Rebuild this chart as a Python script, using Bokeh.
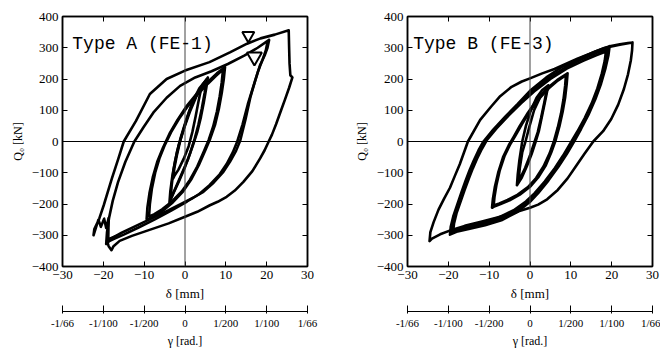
from bokeh.plotting import figure
from bokeh.models import Range1d, FixedTicker, LinearAxis, Span, Label, ColumnDataSource
from bokeh.layouts import row, column
from bokeh.embed import file_html
from bokeh.resources import INLINE

# ---------------- data (delta [mm], Q0 [kN]) ----------------
x_ticks = [-30, -20, -10, 0, 10, 20, 30]
y_ticks = [-400, -300, -200, -100, 0, 100, 200, 300, 400]
gamma_ticks = [-30, -20, -10, 0, 10, 20, 30]
gamma_labels = ["-1/66", "-1/100", "-1/200", "0", "1/200", "1/100", "1/66"]

# Type A (FE-1)
A1_x = [4.0, 3.3, 2.6, 1.8, 0.9, -0.3, -1.6, -2.6, -2.9, -2.6, -2.0, -1.2, -0.2, 1.0, 2.3, 3.3, 4.0]
A1_y = [172, 128, 80, 30, -15, -55, -90, -110, -118, -85, -45, 0, 45, 95, 135, 160, 172]
A2_x = [5.6, 5.2, 4.6, 3.9, 3.0, 2.0, 0.8, -0.7, -2.2, -3.3, -3.8, -3.6, -3.1, -2.4, -1.5, -0.3, 1.2, 2.8, 4.3, 5.6]
A2_y = [205, 170, 125, 78, 30, -10, -55, -100, -145, -178, -195, -160, -110, -60, -10, 40, 95, 145, 182, 205]
A3_x = [5.3, 4.8, 4.1, 3.3, 2.4, 1.3, 0.0, -1.5, -2.8, -3.5, -3.3, -2.8, -2.0, -1.0, 0.3, 1.8, 3.5, 5.3]
A3_y = [198, 155, 105, 55, 10, -35, -82, -128, -165, -185, -145, -90, -35, 15, 70, 125, 170, 198]
A4_x = [9.8, 9.5, 9.0, 8.3, 7.4, 6.2, 4.9, 3.4, 1.6, -0.5, -3.0, -5.5, -7.6, -8.9, -9.4, -9.2, -8.7, -7.9, -6.8, -5.4, -3.8, -1.8, 0.5, 3.0, 5.5, 7.8, 9.8]
A4_y = [238, 200, 155, 105, 55, 10, -30, -75, -120, -160, -195, -222, -240, -247, -248, -210, -165, -115, -65, -20, 25, 70, 115, 155, 190, 218, 238]
A5_x = [9.3, 9.0, 8.5, 7.8, 6.9, 5.8, 4.5, 3.0, 1.2, -0.8, -3.2, -5.6, -7.6, -8.8, -8.6, -8.1, -7.3, -6.2, -4.9, -3.4, -1.5, 0.8, 3.2, 5.6, 7.6, 9.3]
A5_y = [230, 190, 145, 95, 48, 5, -35, -80, -123, -160, -192, -217, -233, -240, -200, -150, -100, -52, -10, 30, 72, 115, 152, 185, 210, 230]
A6_x = [20.6, 20.2, 19.5, 18.4, 17.2, 16.0, 14.8, 13.5, 12.5, 11.0, 9.4, 7.0, 4.5, 2.0, 0.0, -4.0, -8.0, -12.0, -15.5, -18.0, -19.3,
        -19.1, -18.6, -17.7, -16.4, -14.6, -12.4, -10.2, -7.6, -4.5, -1.2, 2.5, 6.5, 10.5, 14.5, 17.8, 20.6]
A6_y = [325, 300, 275, 245, 195, 141, 70, 2, -30, -65, -97, -132, -161, -180, -193, -220, -245, -270, -292, -310, -328,
        -290, -245, -190, -130, -65, 0, 45, 95, 140, 178, 205, 225, 248, 275, 300, 325]
A7_x = [20.2, 19.8, 19.0, 17.9, 16.7, 15.4, 14.1, 12.8, 11.7, 10.2, 8.5, 6.0, 3.5, 0.5, -3.5, -7.5, -11.5, -15.0, -17.5, -18.8,
        -18.7, -19.3, -19.8, -20.6, -21.2, -22.4,
        -22.2, -21.0, -19.9, -17.9, -16.3, -15.0, -12.0, -8.6, -4.5, 0.0, 6.0, 11.0, 15.2, 18.5, 22.0, 25.4,
        25.5, 25.6, 25.8, 26.3, 25.5, 24.5, 23.4, 22.3, 21.3, 20.5, 19.5, 18.4, 16.5, 14.3, 12.2, 10.2, 8.0, 6.1, 3.0, 0.0,
        -4.0, -8.5, -13.0, -16.0, -17.5, -18.0, -18.7, -19.1, -18.3, -16.8]
A7_y = [318, 292, 262, 225, 175, 120, 55, 0, -35, -72, -105, -140, -168, -192, -222, -250, -276, -298, -312, -320,
        -245, -277, -247, -273, -250, -300,
        -280, -247, -204, -118, -54, 0, 66, 152, 200, 227, 254, 285, 313, 330, 342, 356,
        300, 250, 212, 205, 172, 135, 95, 55, 22, 0, -28, -54, -95, -129, -157, -177, -193, -204, -225, -241,
        -262, -282, -302, -318, -335, -348, -335, -318, -310, -302]
A_marker_x = [15.5, 17.0]
A_marker_y = [339, 271]
A_marker_size = [12, 15]

# Type B (FE-3)
B1_x = [4.5, 3.8, 3.0, 2.2, 1.4, 0.4, -0.8, -2.0, -3.2, -3.0, -2.6, -1.9, -1.0, 0.2, 1.6, 3.0, 4.5]
B1_y = [180, 135, 85, 35, 0, -40, -80, -115, -140, -105, -60, 0, 50, 100, 140, 165, 180]
B2_x = [4.2, 3.5, 2.7, 1.9, 1.0, 0.0, -1.2, -2.4, -2.8, -2.5, -1.9, -1.1, -0.2, 1.0, 2.6, 4.2]
B2_y = [172, 125, 75, 30, -5, -45, -85, -118, -125, -85, -35, 0, 45, 100, 145, 172]
B3_x = [9.2, 9.0, 8.6, 8.0, 7.2, 6.3, 5.2, 3.8, 2.0, 0.0, -2.5, -5.0, -7.2, -8.6, -9.3,
        -9.1, -8.6, -7.8, -6.6, -5.2, -4.0, -2.5, -0.5, 1.8, 4.2, 6.7, 9.2]
B3_y = [218, 185, 140, 95, 48, 5, -35, -78, -115, -145, -170, -188, -200, -207, -212,
        -185, -145, -100, -50, -12, 15, 50, 92, 135, 170, 197, 218]
B4_x = [8.8, 8.6, 8.2, 7.6, 6.8, 5.9, 4.8, 3.3, 1.5, -0.5, -3.0, -5.5, -7.5, -8.9,
        -8.7, -8.2, -7.4, -6.2, -4.8, -3.6, -2.0, 0.0, 2.3, 4.6, 6.8, 8.8]
B4_y = [212, 178, 135, 90, 45, 3, -38, -80, -117, -146, -170, -187, -198, -205,
        -178, -138, -92, -45, -8, 18, 55, 97, 138, 170, 195, 212]
B5_x = [19.5, 19.2, 18.5, 17.4, 16.0, 14.3, 12.5, 10.8, 9.0, 7.0, 4.5, 2.0, 0.0, -3.0, -7.0, -11.0, -15.0, -18.0, -19.6,
        -19.4, -18.8, -17.8, -16.8, -15.8, -14.8, -13.8, -12.6, -11.4, -9.0, -6.0, -3.0, 0.0, 4.0, 8.0, 12.0, 16.0, 19.5]
B5_y = [305, 275, 235, 185, 135, 85, 40, 0, -40, -80, -125, -165, -193, -225, -252, -268, -280, -289, -298,
        -272, -240, -201, -163, -126, -92, -62, -28, 0, 38, 80, 120, 162, 205, 240, 265, 288, 305]
B6_x = [19.0, 18.7, 18.0, 16.9, 15.5, 13.8, 12.0, 10.3, 8.5, 6.5, 4.0, 1.5, -0.5, -3.5, -7.5, -11.5, -15.5, -18.0, -19.2,
        -19.0, -18.4, -17.4, -16.4, -15.4, -14.4, -13.4, -12.2, -11.0, -8.6, -5.6, -2.6, 0.5, 4.5, 8.5, 12.5, 16.0, 19.0]
B6_y = [296, 265, 225, 177, 128, 80, 36, -2, -42, -82, -126, -165, -192, -222, -248, -264, -276, -285, -292,
        -266, -234, -196, -158, -122, -89, -59, -26, 2, 40, 82, 120, 160, 202, 236, 262, 282, 296]
B7_x = [18.6, 18.3, 17.6, 16.5, 15.1, 13.4, 11.6, 9.9, 8.1, 6.1, 3.6, 1.1, -1.0, -4.0, -8.0, -12.0, -16.0, -18.8,
        -18.6, -18.0, -17.0, -16.0, -15.0, -14.0, -13.0, -11.8, -10.6, -8.2, -5.2, -2.2, 1.0, 5.0, 9.0, 13.0, 16.2, 18.6]
B7_y = [288, 258, 218, 170, 122, 75, 32, -5, -45, -85, -128, -166, -192, -220, -245, -262, -275, -286,
        -262, -230, -192, -155, -119, -86, -56, -24, 4, 42, 84, 122, 160, 200, 233, 258, 276, 288]
B8_x = [19.5, 22.0, 24.0, 25.1,
        25.0, 24.7, 24.0, 23.0, 21.6, 19.9, 17.9, 15.5, 13.3, 11.2, 9.2, 6.8, 4.2, 2.0, 0.0, -4.0, -8.0, -12.0, -16.0, -19.0, -22.0, -24.0, -24.6,
        -24.4, -23.6, -22.4, -21.0, -19.6, -18.4, -17.2, -15.2, -12.2, -9.5, -7.3, -4.5, -2.0, 0.0, 3.0, 6.0, 11.6, 18.2, 22.0, 25.1]
B8_y = [305, 311, 315, 317,
        292, 260, 215, 168, 118, 72, 33, 0, -40, -80, -118, -155, -185, -202, -212, -228, -243, -257, -270, -282, -297, -311, -319,
        -290, -258, -218, -182, -148, -110, -73, 0, 69, 112, 145, 175, 192, 202, 218, 232, 265, 299, 310, 317]

A_loops_x = [A1_x, A2_x, A3_x, A4_x, A5_x, A6_x, A7_x]
A_loops_y = [A1_y, A2_y, A3_y, A4_y, A5_y, A6_y, A7_y]
B_loops_x = [B1_x, B2_x, B3_x, B4_x, B5_x, B6_x, B7_x, B8_x]
B_loops_y = [B1_y, B2_y, B3_y, B4_y, B5_y, B6_y, B7_y, B8_y]

SERIF = "Liberation Serif"
FW, FH = 245, 250


def style_axis(ax, size="13px"):
    ax.axis_line_color = "black"
    ax.axis_line_width = 1.5
    ax.major_tick_line_color = "black"
    ax.major_tick_line_width = 1
    ax.major_tick_in = 5
    ax.major_tick_out = 0
    ax.minor_tick_line_color = None
    ax.major_label_text_font = SERIF
    ax.major_label_text_font_size = size
    ax.major_label_text_color = "black"
    ax.axis_label_text_font = SERIF
    ax.axis_label_text_font_style = "normal"
    ax.axis_label_text_color = "black"


def main_fig(xr, loops_x, loops_y, title, tx, bl, br, ylab_standoff):
    p = figure(frame_width=FW, frame_height=FH, x_range=xr, y_range=Range1d(-400, 400),
               output_backend="svg", toolbar_location=None,
               min_border_left=bl, min_border_right=br, min_border_top=16, min_border_bottom=36,
               background_fill_color="white", border_fill_color="white")
    p.grid.visible = False
    p.outline_line_color = "black"
    p.outline_line_width = 1.5

    p.xaxis.ticker = FixedTicker(ticks=x_ticks)
    p.yaxis.ticker = FixedTicker(ticks=y_ticks)
    style_axis(p.xaxis[0])
    style_axis(p.yaxis[0])
    p.xaxis.major_label_standoff = 4
    p.xaxis.axis_label = "δ [mm]"
    p.xaxis.axis_label_text_font_size = "13px"
    p.xaxis.axis_label_standoff = 4
    p.yaxis.major_label_standoff = 4
    p.yaxis.axis_label = "Q₀ [kN]"
    p.yaxis.axis_label_text_font_size = "12px"
    p.yaxis.axis_label_standoff = ylab_standoff

    # inward ticks on the top and right frame edges (no labels)
    for loc, tk in (("above", x_ticks), ("right", y_ticks)):
        ax = LinearAxis(ticker=FixedTicker(ticks=tk))
        style_axis(ax)
        ax.major_label_text_font_size = "0px"
        ax.major_label_text_color = None
        ax.major_label_standoff = 0
        p.add_layout(ax, loc)

    p.add_layout(Span(location=0, dimension="width", line_color="black", line_width=1))
    p.add_layout(Span(location=0, dimension="height", line_color="#444444", line_width=1))

    p.multi_line(xs=loops_x, ys=loops_y, line_color="black", line_width=2.6,
                 line_join="round", line_cap="round")

    p.add_layout(Label(x=tx, y=313, text=title, text_font="Liberation Mono",
                       text_font_size="18px", text_color="black", text_baseline="alphabetic"))
    return p


def gamma_fig(xr, bl, br):
    g = figure(frame_width=FW, frame_height=8, x_range=xr, y_range=Range1d(0, 1),
               output_backend="svg", toolbar_location=None, y_axis_location=None,
               min_border_left=bl, min_border_right=br, min_border_top=0, min_border_bottom=38,
               background_fill_color="white", border_fill_color="white")
    g.grid.visible = False
    g.outline_line_color = None
    ax = g.xaxis[0]
    ax.ticker = FixedTicker(ticks=gamma_ticks)
    ax.major_label_overrides = {t: s for t, s in zip(gamma_ticks, gamma_labels)}
    style_axis(ax, "11px")
    ax.axis_line_width = 1
    ax.major_tick_in = 6
    ax.major_tick_out = 2
    ax.major_label_standoff = 3
    ax.axis_label = "γ [rad.]"
    ax.axis_label_text_font_size = "12px"
    ax.axis_label_standoff = 2
    return g


xrA = Range1d(-30, 30)
xrB = Range1d(-30, 30)

pA = main_fig(xrA, A_loops_x, A_loops_y, "Type A (FE-1)", -27.6, 62, 43, 4)
srcA = ColumnDataSource(dict(x=A_marker_x, y=A_marker_y, s=A_marker_size))
pA.scatter(x="x", y="y", size="s", source=srcA, marker="inverted_triangle",
           fill_color="white", line_color="black", line_width=2)
gA = gamma_fig(xrA, 62, 43)

pB = main_fig(xrB, B_loops_x, B_loops_y, "Type B (FE-3)", -28.6, 57, 8, 5)
gB = gamma_fig(xrB, 57, 8)

layout = row(column(pA, gA), column(pB, gB))
open("out.html", "w").write(file_html(layout, INLINE))
